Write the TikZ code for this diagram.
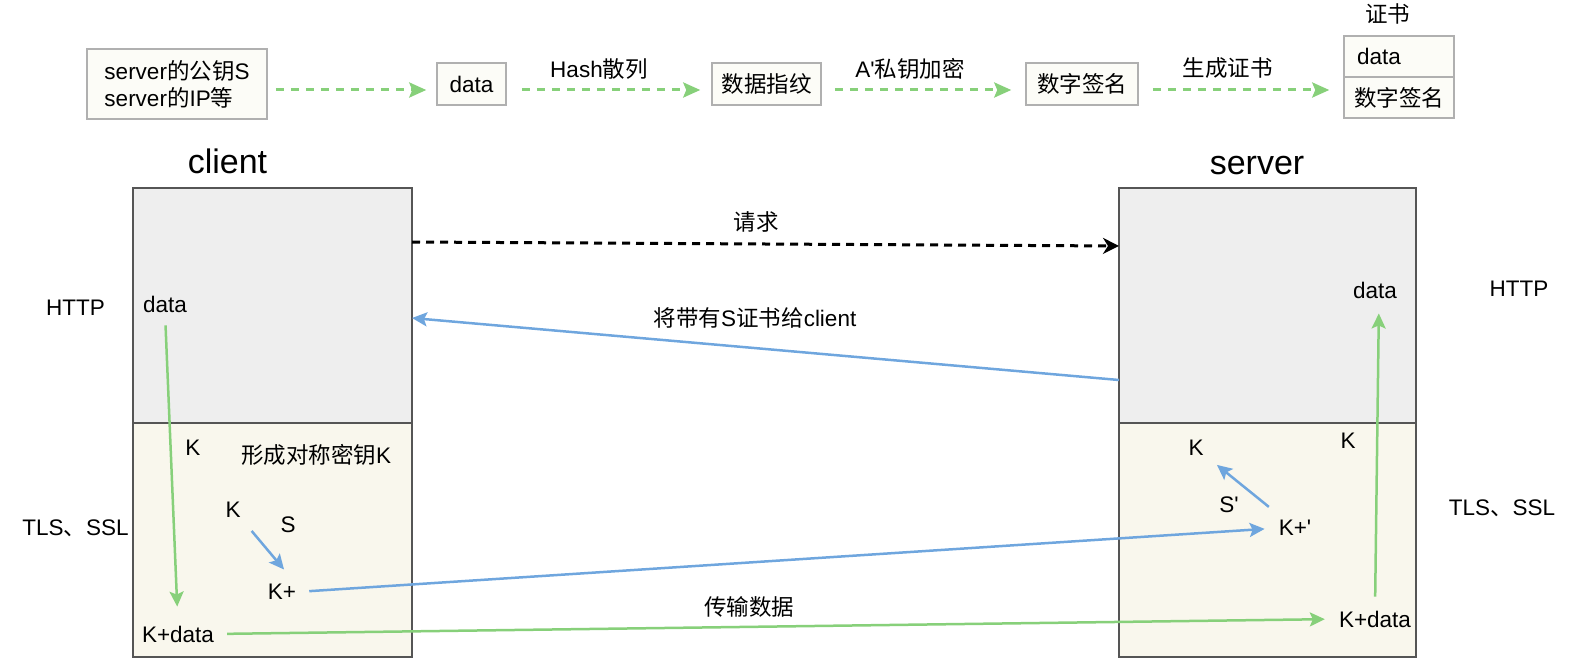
\documentclass[tikz,border=0pt]{standalone}
\usepackage{fontspec}
\setmainfont{Liberation Sans}
\newfontfamily\zhfont{Noto Sans CJK SC}
\newcommand{\zh}[1]{{\zhfont #1}}
\usetikzlibrary{arrows.meta}
\definecolor{flowGreen}{RGB}{135,208,122}
\definecolor{keyBlue}{RGB}{111,166,222}
\definecolor{noteFill}{RGB}{252,252,247}
\definecolor{noteGray}{RGB}{176,176,176}
\definecolor{frameGray}{RGB}{85,85,85}
\definecolor{httpFill}{RGB}{238,238,238}
\definecolor{tlsFill}{RGB}{249,247,237}

\begin{document}
\begin{tikzpicture}[x=1pt, y=-1pt,
    every node/.style={font=\fontsize{22.5}{27}\selectfont, inner sep=0pt},
    note/.style={draw=noteGray, fill=noteFill, line width=1.5pt, minimum height=42pt},
    stackBox/.style={draw=frameGray, line width=1.5pt},
    headLabel/.style={font=\fontsize{34}{40}\selectfont, anchor=base},
    flowArrow/.style={draw=flowGreen, line width=3pt, dash pattern=on 8pt off 7pt,
        -{Stealth[length=17pt, width=15pt, inset=3pt]}},
    greenArrow/.style={draw=flowGreen, line width=2.5pt, -{Stealth[length=15pt, width=14pt, inset=3pt]}},
    blueArrow/.style={draw=keyBlue, line width=2.5pt, -{Stealth[length=15pt, width=14pt, inset=3pt]}}]
    \useasboundingbox (0,0) rectangle (1570,666);

    % Certificate generation row
    \node[note, minimum width=180pt, minimum height=70pt, align=left] (srcInfo) at (177,84)
        {server\zh{的公钥}S\\server\zh{的}IP\zh{等}};
    \node[note, minimum width=69pt] (rawData) at (471.5,84) {data};
    \node[note, minimum width=109pt] (digest) at (766.5,84) {\zh{数据指纹}};
    \node[note, minimum width=112pt] (signature) at (1082,84) {\zh{数字签名}};

    % Certificate
    \node[note, minimum height=41pt, inner xsep=13pt, text width=84pt] (certData) at (1399,56.5) {data};
    \node[note, minimum height=41pt, minimum width=110pt] (certSign) at (1399,97.5) {\zh{数字签名}};
    \node (certTitle) at (1387.5,14) {\zh{证书}};

    \coordinate (flowRow) at (0,90);
    \foreach \from/\to/\ga/\gb in {srcInfo/rawData/8/10, rawData/digest/15/11,
                                   digest/signature/13/14, signature/certSign/14/14} {
        \draw[flowArrow, shorten <=\ga pt, shorten >=\gb pt] (\from.east |- flowRow) -- (\to.west |- flowRow);
    }
    \node (hashLabel) at (599,69) {Hash\zh{散列}};
    \node (encLabel) at (910,69) {A\textquotesingle\zh{私钥加密}};
    \node (genLabel) at (1227.5,68) {\zh{生成证书}};

    % Client and server stacks
    \node[stackBox, fill=httpFill, minimum width=279pt, minimum height=235pt] (cliHttp) at (272.5,305.5) {};
    \node[stackBox, fill=tlsFill, minimum width=279pt, minimum height=234pt] (cliTls) at (272.5,540) {};
    \node[stackBox, fill=httpFill, minimum width=297pt, minimum height=235pt] (srvHttp) at (1267.5,305.5) {};
    \node[stackBox, fill=tlsFill, minimum width=297pt, minimum height=234pt] (srvTls) at (1267.5,540) {};
    \node[headLabel] (cliTitle) at (227.5,173) {client};
    \node[headLabel] (srvTitle) at (1257,174) {server};

    % Layer names
    \foreach \x/\y/\name/\txt in {75.5/308/httpL/HTTP, 1519/289/httpR/HTTP,
                                  75.5/528/tlsL/TLS\zh{、}SSL, 1502/508/tlsR/TLS\zh{、}SSL} {
        \node (\name) at (\x,\y) {\txt};
    }

    % Handshake
    \coordinate (reqFrom) at (412,242);
    \coordinate (reqTo) at (1119,246);
    \draw[line width=3pt, dash pattern=on 8pt off 6pt, -{Stealth[length=16pt, width=16pt, inset=5pt]}] (reqFrom) -- (reqTo);
    \node (reqLabel) at (756,222) {\zh{请求}};

    \coordinate (certFrom) at (1119,380);
    \coordinate (certTo) at (412,318);
    \draw[blueArrow] (certFrom) -- (certTo);
    \node (certLabel) at (755,318) {\zh{将带有}S\zh{证书给}client};

    % Client side
    \node (cliData) at (165,304) {data};
    \node (cliK) at (193,448) {K};
    \node (keyLabel) at (316,455) {\zh{形成对称密钥}K};
    \node (cliK2) at (233,510) {K};
    \node (cliS) at (288,525) {S};
    \node (cliKp) at (282,592) {K+};
    \node (cliKdata) at (178,634) {K+data};

    % Server side
    \node (srvData) at (1375,290) {data};
    \node (srvK) at (1196,448) {K};
    \node (srvK2) at (1348,441) {K};
    \node (srvS) at (1229,505) {S\textquotesingle};
    \node (srvKp) at (1295,528) {K+\textquotesingle};
    \node (srvKdata) at (1375,619) {K+data};
    \node (sendLabel) at (749,607) {\zh{传输数据}};

    % Key exchange and data transfer
    \draw[greenArrow, shorten <=13pt, shorten >=19pt] (cliData.south) -- (cliKdata.north);
    \draw[blueArrow, shorten <=17pt, shorten >=19pt] (cliK2.south east) -- (cliKp.north east);
    \draw[blueArrow, shorten <=13pt, shorten >=14pt] (cliKp.east) -- (srvKp.west);
    \draw[blueArrow, shorten <=21pt, shorten >=17pt] (srvKp) -- (srvK);
    \draw[greenArrow, shorten <=13pt, shorten >=14pt] (cliKdata.east) -- (srvKdata.west);
    \draw[greenArrow, shorten <=14pt, shorten >=15pt] (srvKdata.north) -- ([xshift=4pt]srvData.south);

\end{tikzpicture}
\end{document}
